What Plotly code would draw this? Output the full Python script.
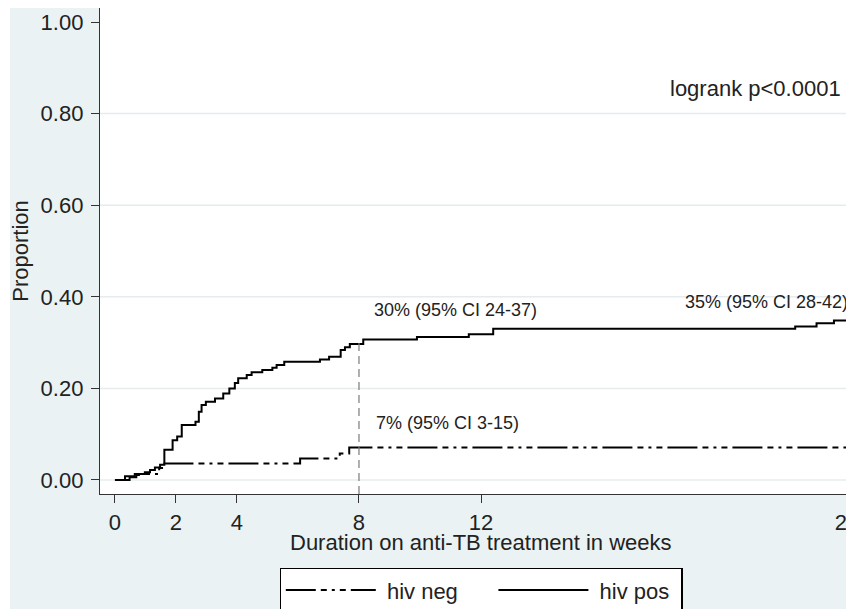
import plotly.graph_objects as go

# ---- data ----
pos_weeks = [0, 0.33, 0.65, 0.98, 1.15, 1.31, 1.48, 1.62, 1.89, 2.04, 2.19, 2.64, 2.75, 2.84,
             2.98, 3.28, 3.55, 3.75, 3.93, 4.04, 4.32, 4.48, 4.83, 5.16, 5.30, 5.55, 6.72,
             7.02, 7.40, 7.54, 7.70, 8.14, 9.90, 11.60, 12.40, 22.30, 23.00, 23.57, 24.03]
pos_fail = [0, 0.008, 0.013, 0.017, 0.022, 0.027, 0.033, 0.066, 0.087, 0.095, 0.120, 0.127, 0.149,
            0.164, 0.171, 0.178, 0.189, 0.200, 0.212, 0.222, 0.229, 0.235, 0.240, 0.245, 0.251,
            0.258, 0.263, 0.269, 0.284, 0.290, 0.297, 0.307, 0.312, 0.318, 0.330, 0.335, 0.342,
            0.348, 0.348]

neg_weeks = [0, 0.48, 0.70, 0.98, 1.45, 1.59, 6.07, 7.37, 7.68, 24.03]
neg_fail = [0, 0.006, 0.011, 0.013, 0.026, 0.036, 0.047, 0.058, 0.071, 0.071]

series_names = ["hiv neg", "hiv pos"]

x_ticks = [0, 2, 4, 8, 12, 24]
y_ticks = [0, 0.2, 0.4, 0.6, 0.8, 1.0]
y_tick_labels = ["0.00", "0.20", "0.40", "0.60", "0.80", "1.00"]
grid_values = [0, 0.2, 0.4, 0.6, 0.8]

marker_week = 8
marker_value = 0.300

notes = ["30% (95% CI 24-37)", "7% (95% CI 3-15)", "35% (95% CI 28-42)", "logrank p<0.0001"]
note_x = [8.46, 8.52, 24.07, 23.84]
note_y = [0.372, 0.124, 0.389, 0.854]

x_title = "Duration on anti-TB treatment in weeks"
y_title = "Proportion"

# ---- figure ----
FONT = "Liberation Sans, Arial, sans-serif"
TXT = "#222"
BG = "#eaf2f3"
X_RANGE = [-0.49, 24.49]
Y_RANGE = [-0.0306, 1.0306]
NB = "\u00a0"

# legend spacing (non-breaking spaces pad the entries like the reference legend)
legend_labels = [NB + series_names[0] + NB * 5, NB + series_names[1] + NB]

fig = go.Figure()
fig.add_trace(go.Scatter(
    x=neg_weeks, y=neg_fail, mode="lines", name=legend_labels[0],
    line=dict(shape="hv", color="black", width=2,
              dash="30px,5px,6px,5px,3px,5px,6px,5px")))
fig.add_trace(go.Scatter(
    x=pos_weeks, y=pos_fail, mode="lines", name=legend_labels[1],
    line=dict(shape="hv", color="black", width=2)))

shapes = []
for g in grid_values:
    shapes.append(dict(type="line", xref="paper", yref="y", x0=0, x1=1, y0=g, y1=g,
                       line=dict(color="#e6eced", width=1.5), layer="below"))
shapes.append(dict(type="line", xref="x", yref="y", x0=marker_week, x1=marker_week,
                   y0=Y_RANGE[0], y1=marker_value,
                   line=dict(color="#7a7a7a", width=1.2, dash="8px,5px")))
# thin white strip at the left edge of the image
shapes.append(dict(type="rect", xref="paper", yref="paper", x0=-0.13, x1=-0.1181,
                   y0=-0.3, y1=1.05, fillcolor="white", line=dict(width=0), layer="above"))

annotations = []
for t, xx, yy in zip(notes, note_x, note_y):
    big = t.startswith("logrank")
    annotations.append(dict(
        text=t, x=xx, y=yy, xref="x", yref="y", showarrow=False,
        xanchor="right" if xx > 20 else "left", yanchor="middle",
        font=dict(family=FONT, size=22 if big else 18, color=TXT), borderpad=0))
annotations.append(dict(
    text=x_title, x=0.5, y=-0.1008, xref="paper", yref="paper", showarrow=False,
    xanchor="center", yanchor="middle", font=dict(family=FONT, size=22, color=TXT)))

fig.update_layout(
    width=854, height=609,
    margin=dict(l=92, r=0, t=0, b=123, autoexpand=False),
    paper_bgcolor=BG, plot_bgcolor="white",
    font=dict(family=FONT, size=22, color=TXT),
    shapes=shapes, annotations=annotations,
    showlegend=True,
    legend=dict(orientation="h", x=0.5, xanchor="center", y=-0.1523, yanchor="top",
                bgcolor="white", bordercolor="black", borderwidth=1.3,
                font=dict(family=FONT, size=22, color=TXT), itemwidth=90,
                traceorder="normal"),
    xaxis=dict(range=X_RANGE, tickvals=x_ticks, showgrid=False, zeroline=False,
               showline=True, linecolor="#333", linewidth=1.3, automargin=False,
               ticks="outside", ticklen=8, tickwidth=1.3, tickcolor="#333",
               ticklabelstandoff=0, ticklabeloverflow="allow",
               tickfont=dict(family=FONT, size=22, color=TXT)),
    yaxis=dict(range=Y_RANGE, tickvals=y_ticks, ticktext=y_tick_labels, showgrid=False,
               zeroline=False, showline=True, linecolor="#333", linewidth=1.3,
               automargin=False,
               ticks="outside", ticklen=8, tickwidth=1.3, tickcolor="#333",
               ticklabelstandoff=3,
               tickfont=dict(family=FONT, size=22, color=TXT),
               title=dict(text=y_title, standoff=12,
                          font=dict(family=FONT, size=22, color=TXT))),
)

fig.write_html("out.html")
